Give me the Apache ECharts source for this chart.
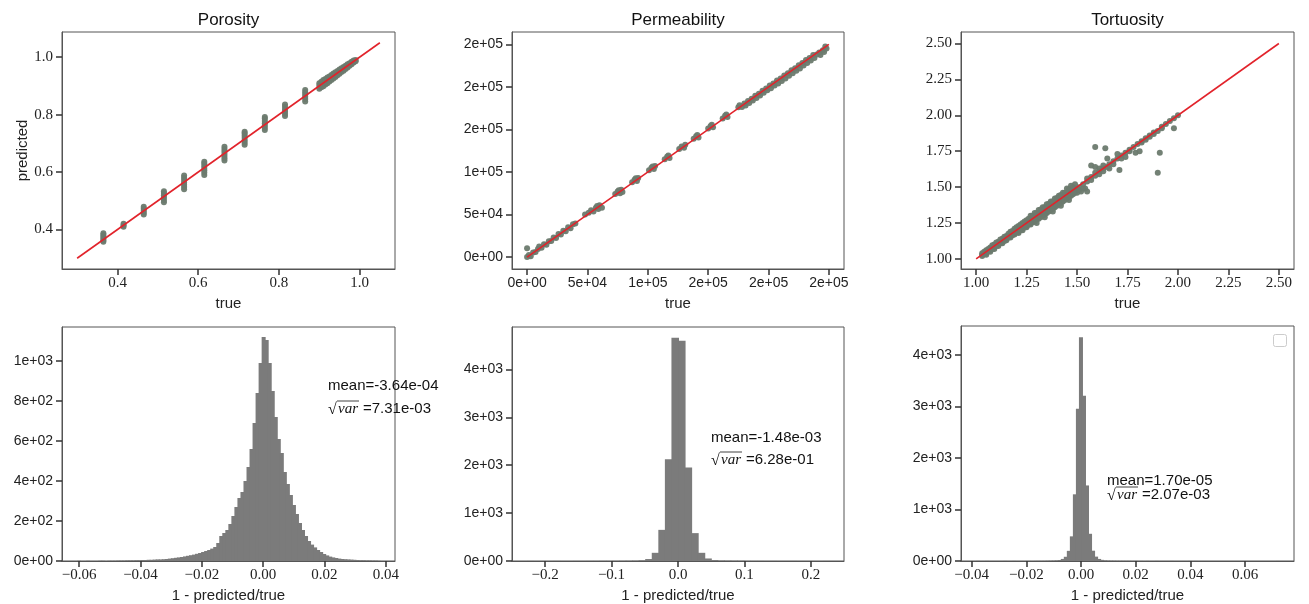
<!DOCTYPE html>
<html><head><meta charset="utf-8">
<script src="https://cdn.jsdelivr.net/npm/echarts@6/dist/echarts.min.js"></script>
<style>html,body{margin:0;padding:0;background:#fff}#c{width:1309px;height:604px}</style>
</head><body><div id="c"></div>
<script>
// ---------------- DATA ----------------
var titles = ['Porosity', 'Permeability', 'Tortuosity'];

// Porosity scatter [true, predicted]
var porosityPoints = [
 [0.365,0.357],[0.365,0.363],[0.365,0.369],[0.365,0.375],[0.365,0.381],[0.365,0.387],
 [0.415,0.410],[0.415,0.415],[0.415,0.420],
 [0.465,0.452],[0.465,0.459],[0.465,0.466],[0.465,0.473],[0.465,0.479],
 [0.515,0.495],[0.515,0.503],[0.515,0.511],[0.515,0.519],[0.515,0.527],[0.515,0.533],
 [0.565,0.540],[0.565,0.548],[0.565,0.556],[0.565,0.564],[0.565,0.572],[0.565,0.580],[0.565,0.588],
 [0.615,0.590],[0.615,0.598],[0.615,0.606],[0.615,0.614],[0.615,0.622],[0.615,0.630],[0.615,0.636],
 [0.665,0.640],[0.665,0.648],[0.665,0.656],[0.665,0.664],[0.665,0.672],[0.665,0.680],[0.665,0.688],
 [0.715,0.695],[0.715,0.703],[0.715,0.711],[0.715,0.719],[0.715,0.727],[0.715,0.735],[0.715,0.740],
 [0.765,0.746],[0.765,0.754],[0.765,0.762],[0.765,0.770],[0.765,0.778],[0.765,0.786],[0.765,0.792],
 [0.815,0.795],[0.815,0.803],[0.815,0.811],[0.815,0.819],[0.815,0.827],[0.815,0.835],
 [0.865,0.846],[0.865,0.854],[0.865,0.862],[0.865,0.870],[0.865,0.878],[0.865,0.886],
 [0.900,0.890],[0.900,0.900],[0.900,0.909],[0.905,0.895],[0.905,0.906],[0.905,0.914],
 [0.910,0.899],[0.910,0.910],[0.910,0.920],[0.915,0.905],[0.915,0.916],[0.915,0.924],
 [0.920,0.909],[0.920,0.920],[0.920,0.929],[0.925,0.915],[0.925,0.926],[0.925,0.933],
 [0.930,0.920],[0.930,0.930],[0.930,0.938],[0.935,0.926],[0.935,0.935],[0.935,0.943],
 [0.940,0.931],[0.940,0.940],[0.940,0.947],[0.945,0.937],[0.945,0.945],[0.945,0.952],
 [0.950,0.942],[0.950,0.950],[0.950,0.957],[0.955,0.948],[0.955,0.955],[0.955,0.961],
 [0.960,0.953],[0.960,0.960],[0.960,0.966],[0.965,0.959],[0.965,0.965],[0.965,0.970],
 [0.970,0.964],[0.970,0.970],[0.970,0.975],[0.975,0.970],[0.975,0.975],[0.975,0.979],
 [0.980,0.975],[0.980,0.980],[0.980,0.984],[0.985,0.981],[0.985,0.985],[0.985,0.988],
 [0.990,0.986],[0.990,0.990]
];
var porosityLine = [0.3, 1.05];

// Permeability scatter [true, predicted]
var permeabilityPoints = [
 [0,0],[1500,2500],[0,10500],[3000,1000],[5000,5500],[7000,6000],[9000,9500],[10000,12500],[12000,11000],
 [14000,15000],[16000,14500],[18000,18500],[20000,19000],[22000,23000],[24000,22500],[26000,27000],
 [28000,26500],[30000,31000],[32000,30500],[34000,35000],[36000,34000],[38000,38500],[40000,39500],
 [48000,50000],[51000,52000],[53000,55000],[55000,53500],[57000,58000],[59000,56500],[60000,61000],[62000,58000],[58000,60000],
 [73000,74000],[75000,77000],[77000,75000],[78000,79000],[76000,78500],[79000,76500],
 [87000,88000],[89000,91000],[91000,89500],[92000,93000],[90000,92500],
 [101000,102000],[103000,105000],[105000,103500],[106000,107000],[104000,106500],
 [114000,115000],[116000,118000],[118000,116500],[117000,119500],
 [126000,127000],[128000,130000],[130000,128500],[131000,132000],
 [138000,139000],[140000,142000],[142000,140500],[141000,143500],
 [150000,151000],[152000,154000],[154000,152500],[153000,155500],
 [162000,163000],[164000,166000],[166000,164500],[165000,167500],
 [175000,176000],[176000,178500],[178000,176500],[180000,180500],[181000,178000],[183000,183500],[184000,181000],
 [186000,186000],[187000,184000],[189000,189500],[190000,187000],[192000,192000],[193000,190000],[195000,195500],
 [196000,193000],[198000,198000],[199000,196000],[201000,201500],[202000,198500],[204000,204000],[205000,201500],
 [207000,207500],[208000,204000],[210000,210000],[211000,207000],[213000,213500],[214000,210000],[216000,216000],
 [217000,213000],[219000,219500],[220000,216000],[222000,222000],[223000,219000],[225000,225500],[226000,221500],
 [228000,228000],[229000,225000],[231000,231500],[232000,228000],[234000,234000],[235000,231000],[237000,237500],
 [238000,234000],[240000,238000],[242000,240500],[243000,237500],[245000,243000],[246000,241000],[248000,245000],[247000,247500]
];
var permeabilityLine = [0, 250000];

// Tortuosity scatter [true, predicted]
var tortuosityPoints = [
 [1.03,1.03],[1.03,1.04],[1.03,1.02],[1.05,1.05],[1.05,1.04],[1.05,1.06],[1.05,1.03],
 [1.07,1.07],[1.07,1.06],[1.07,1.08],[1.07,1.05],[1.09,1.09],[1.09,1.08],[1.09,1.10],[1.09,1.07],
 [1.11,1.11],[1.11,1.10],[1.11,1.12],[1.11,1.09],[1.13,1.13],[1.13,1.11],[1.13,1.14],[1.13,1.12],
 [1.15,1.15],[1.15,1.13],[1.15,1.16],[1.15,1.14],[1.17,1.17],[1.17,1.15],[1.17,1.19],[1.17,1.16],
 [1.19,1.19],[1.19,1.17],[1.19,1.21],[1.19,1.18],[1.21,1.21],[1.21,1.19],[1.21,1.23],[1.21,1.18],
 [1.23,1.23],[1.23,1.21],[1.23,1.25],[1.23,1.20],[1.25,1.25],[1.25,1.22],[1.25,1.27],[1.25,1.23],
 [1.27,1.27],[1.27,1.24],[1.27,1.30],[1.27,1.25],[1.29,1.29],[1.29,1.26],[1.29,1.32],[1.29,1.27],
 [1.31,1.31],[1.31,1.28],[1.31,1.34],[1.31,1.29],[1.33,1.33],[1.33,1.30],[1.33,1.36],[1.33,1.31],
 [1.35,1.35],[1.35,1.32],[1.35,1.38],[1.35,1.33],[1.37,1.37],[1.37,1.34],[1.37,1.40],[1.37,1.35],
 [1.39,1.39],[1.39,1.36],[1.39,1.42],[1.39,1.37],[1.41,1.41],[1.41,1.38],[1.41,1.44],[1.41,1.40],
 [1.43,1.43],[1.43,1.40],[1.43,1.46],[1.43,1.42],[1.45,1.45],[1.45,1.42],[1.45,1.49],[1.45,1.44],
 [1.47,1.47],[1.47,1.44],[1.47,1.51],[1.47,1.46],[1.49,1.49],[1.49,1.46],[1.49,1.52],[1.49,1.47],
 [1.04,1.035],[1.06,1.055],[1.08,1.07],[1.10,1.09],[1.12,1.11],[1.14,1.125],[1.16,1.15],[1.18,1.165],
 [1.20,1.185],[1.22,1.20],[1.24,1.22],[1.26,1.24],[1.28,1.255],[1.30,1.275],[1.32,1.29],[1.34,1.31],
 [1.36,1.33],[1.38,1.35],[1.40,1.37],[1.42,1.39],[1.44,1.41],[1.46,1.43],[1.48,1.45],
 [1.04,1.05],[1.06,1.07],[1.08,1.095],[1.10,1.115],[1.12,1.135],[1.14,1.155],[1.16,1.175],[1.18,1.195],
 [1.20,1.22],[1.22,1.24],[1.24,1.26],[1.26,1.28],[1.28,1.30],[1.30,1.32],[1.32,1.345],[1.34,1.36],
 [1.36,1.385],[1.38,1.40],[1.40,1.425],[1.42,1.445],[1.44,1.46],[1.46,1.485],[1.48,1.50],
 [1.30,1.25],[1.34,1.29],[1.38,1.33],[1.42,1.37],[1.46,1.41],[1.50,1.46],[1.52,1.47],[1.54,1.49],
 [1.51,1.50],[1.51,1.48],[1.53,1.52],[1.53,1.49],[1.55,1.56],[1.55,1.54],[1.55,1.47],
 [1.57,1.57],[1.57,1.65],[1.57,1.55],[1.59,1.60],[1.59,1.58],[1.59,1.64],[1.59,1.78],
 [1.61,1.61],[1.61,1.63],[1.61,1.59],[1.63,1.63],[1.63,1.61],[1.63,1.65],[1.64,1.77],
 [1.65,1.64],[1.65,1.70],[1.66,1.66],[1.66,1.63],[1.68,1.68],[1.68,1.66],
 [1.70,1.70],[1.70,1.73],[1.71,1.62],[1.72,1.72],[1.72,1.70],[1.74,1.74],[1.74,1.71],
 [1.76,1.76],[1.76,1.75],[1.78,1.78],[1.79,1.74],[1.80,1.80],[1.81,1.75],[1.82,1.82],[1.82,1.81],
 [1.84,1.84],[1.84,1.83],[1.86,1.86],[1.86,1.85],[1.88,1.88],[1.88,1.87],[1.90,1.89],[1.90,1.60],[1.91,1.74],
 [1.92,1.92],[1.92,1.91],[1.94,1.94],[1.96,1.96],[1.98,1.98],[1.98,1.91],[2.00,2.00]
];
var tortuosityLine = [1.0, 2.5];

// Histograms of 1 - predicted/true (bin start, bin width, counts)
var porosityHistStart = -0.0607, porosityHistWidth = 0.000987;
var porosityHistCounts = [
 1,0,0,1,0,0,0,1,1,0,
 1,1,1,2,2,2,3,3,3,4,
 4,5,5,6,6,7,8,8,9,10,
 12,14,16,18,20,23,26,29,32,36,
 40,45,50,55,62,70,90,125,140,155,
 185,225,270,315,345,400,470,560,690,840,
 990,1120,1105,990,850,720,610,540,445,385,
 330,280,235,190,155,125,100,82,68,55,
 45,35,28,22,18,15,12,10,9,8,
 7,6,5,4,4,3,3,2,2,1
];
var permeabilityHistStart = -0.227, permeabilityHistWidth = 0.00987;
var permeabilityHistCounts = [
 1,0,0,0,1,0,0,1,0,1,1,2,
 2,3,4,5,8,15,41,171,650,2123,4658,4596,1952,582,171,53,20,10,8,6,5,2,1,1,
 0,1,0,0,1,0,0,0,0,1
];
var tortuosityHistStart = -0.0384, tortuosityHistWidth = 0.001107;
var tortuosityHistCounts = [
 2,0,0,1,0,0,0,0,0,1,0,0,1,0,0,0,1,1,0,1,2,2,3,
 5,6,8,12,20,40,82,197,478,1294,2953,4344,3208,1466,528,200,85,40,22,12,8,6,5,4,3,3,2,2,1,2,1,1,0,1,
 0,0,1,0,0,0,0,1,0,0,0,0,0,1,0,1,0,0,0,0,0,0,0,0,0,0,0,0,0,0,0,0,0,0,0,0,0,0,0,0,0,0,1
];

// Tick values and labels
var porosityTicks = [0.4, 0.6, 0.8, 1.0];
var permeabilityTicks = [0, 50000, 100000, 150000, 200000, 250000];
var permeabilityTickLabels = ['0e+00', '5e+04', '1e+05', '2e+05', '2e+05', '2e+05'];
var tortuosityTicks = [1.0, 1.25, 1.5, 1.75, 2.0, 2.25, 2.5];
var hist1XTicks = [-0.06, -0.04, -0.02, 0, 0.02, 0.04];
var hist1XLabels = ['\u22120.06', '\u22120.04', '\u22120.02', '0.00', '0.02', '0.04'];
var hist1YTicks = [0, 200, 400, 600, 800, 1000];
var hist1YLabels = ['0e+00', '2e+02', '4e+02', '6e+02', '8e+02', '1e+03'];
var hist2XTicks = [-0.2, -0.1, 0, 0.1, 0.2];
var hist2XLabels = ['\u22120.2', '\u22120.1', '0.0', '0.1', '0.2'];
var hist2YTicks = [0, 1000, 2000, 3000, 4000];
var hist2YLabels = ['0e+00', '1e+03', '2e+03', '3e+03', '4e+03'];
var hist3XTicks = [-0.04, -0.02, 0, 0.02, 0.04, 0.06];
var hist3XLabels = ['\u22120.04', '\u22120.02', '0.00', '0.02', '0.04', '0.06'];
var hist3YTicks = [0, 1000, 2000, 3000, 4000];
var hist3YLabels = ['0e+00', '1e+03', '2e+03', '3e+03', '4e+03'];

var statTexts = [
 ['mean=-3.64e-04', '=7.31e-03'],
 ['mean=-1.48e-03', '=6.28e-01'],
 ['mean=1.70e-05', '=2.07e-03']
];

// ---------------- STYLE / LAYOUT ----------------
var SANS = 'Liberation Sans', SERIF = 'Liberation Serif';
var FRAME = '#555';
var grids = [
 {left: 62, top: 32, width: 333, height: 237},
 {left: 512, top: 32, width: 332, height: 237},
 {left: 961, top: 32, width: 333, height: 237},
 {left: 62, top: 327, width: 333, height: 237},
 {left: 512, top: 327, width: 332, height: 237},
 {left: 961, top: 326, width: 333, height: 238}
];
grids.forEach(function (g) { g.show = true; g.borderColor = FRAME; g.borderWidth = 1; });

function labelFor(ticks, labels, decimals) {
  return function (v) {
    for (var i = 0; i < ticks.length; i++) if (Math.abs(ticks[i] - v) < 1e-9 * Math.max(1, Math.abs(v))) {
      return labels ? labels[i] : ticks[i].toFixed(decimals);
    }
    return '';
  };
}
function axis(kind, idx, min, max, ticks, fmt, serif, name) {
  var a = {
    type: 'value', gridIndex: idx, min: min, max: max,
    splitLine: {show: false},
    axisLine: {show: true, onZero: false, lineStyle: {color: FRAME, width: 1}},
    axisTick: {show: true, length: 6, customValues: ticks, lineStyle: {color: '#333', width: 1.5}},
    axisLabel: {customValues: ticks, formatter: fmt, color: '#222',
      fontFamily: serif ? SERIF : SANS, fontSize: serif ? 15 : 14, margin: kind === 'x' ? 7 : 9}
  };
  if (name) {
    a.name = name; a.nameLocation = 'middle';
    a.nameTextStyle = {fontFamily: SANS, fontSize: 15, color: '#222'};
    a.nameGap = kind === 'x' ? 27 : 31;
  }
  return a;
}

var xAxes = [
 axis('x', 0, 0.2625, 1.0875, porosityTicks, labelFor(porosityTicks, null, 1), true, 'true'),
 axis('x', 1, -12500, 262500, permeabilityTicks, labelFor(permeabilityTicks, permeabilityTickLabels), false, 'true'),
 axis('x', 2, 0.925, 2.575, tortuosityTicks, labelFor(tortuosityTicks, null, 2), true, 'true'),
 axis('x', 3, -0.0656, 0.0430, hist1XTicks, labelFor(hist1XTicks, hist1XLabels), true, '1 - predicted/true'),
 axis('x', 4, -0.2497, 0.2497, hist2XTicks, labelFor(hist2XTicks, hist2XLabels), true, '1 - predicted/true'),
 axis('x', 5, -0.0439, 0.0779, hist3XTicks, labelFor(hist3XTicks, hist3XLabels), true, '1 - predicted/true')
];
var yAxes = [
 axis('y', 0, 0.2625, 1.0875, porosityTicks, labelFor(porosityTicks, null, 1), true, 'predicted'),
 axis('y', 1, -14000, 264500, permeabilityTicks, labelFor(permeabilityTicks, permeabilityTickLabels), false),
 axis('y', 2, 0.93, 2.58, tortuosityTicks, labelFor(tortuosityTicks, null, 2), true),
 axis('y', 3, 0, 1170, hist1YTicks, labelFor(hist1YTicks, hist1YLabels), false),
 axis('y', 4, 0, 4885, hist2YTicks, labelFor(hist2YTicks, hist2YLabels), false),
 axis('y', 5, 0, 4560, hist3YTicks, labelFor(hist3YTicks, hist3YLabels), false)
];

var PT = '#6b7a6e', RED = '#e2232b', BAR = '#7b7b7b';
function scatter(i, pts) {
  return {type: 'scatter', xAxisIndex: i, yAxisIndex: i, data: pts, symbolSize: 6,
    itemStyle: {color: PT, opacity: 0.95}, z: 2, silent: true, animation: false};
}
function refLine(i, ends) {
  return {type: 'line', xAxisIndex: i, yAxisIndex: i, data: [[ends[0], ends[0]], [ends[1], ends[1]]],
    symbol: 'none', lineStyle: {color: RED, width: 1.6}, z: 3, silent: true, animation: false};
}
function hist(i, start, width, counts) {
  var data = counts.map(function (c, k) { return [start + k * width, start + (k + 1) * width, c]; });
  return {type: 'custom', xAxisIndex: i, yAxisIndex: i, data: data, silent: true, animation: false,
    encode: {x: [0, 1], y: 2},
    renderItem: function (params, api) {
      var p0 = api.coord([api.value(0), api.value(2)]);
      var p1 = api.coord([api.value(1), 0]);
      return {type: 'rect', shape: {x: p0[0], y: p0[1], width: p1[0] - p0[0] + 1, height: p1[1] - p0[1]},
        style: {fill: BAR}};
    }};
}

// Graphic annotations
var graphics = [];
[[228.5, 20], [678, 20], [1127.5, 20]].forEach(function (p, k) {
  graphics.push({type: 'text', x: p[0], y: p[1], style: {text: titles[k], font: '17px "' + SANS + '"',
    fill: '#111', align: 'center', verticalAlign: 'middle'}});
});
function stat(x, y1, y2, k) {
  graphics.push({type: 'text', x: x, y: y1, style: {text: statTexts[k][0], font: '15px "' + SANS + '"', fill: '#111', verticalAlign: 'middle'}});
  graphics.push({type: 'text', x: x, y: y2 + 1, style: {text: '\u221A', font: '16px "' + SERIF + '"', fill: '#111', verticalAlign: 'middle'}});
  graphics.push({type: 'line', shape: {x1: x + 9, y1: y2 - 8, x2: x + 31, y2: y2 - 8}, style: {stroke: '#111', lineWidth: 0.8}});
  graphics.push({type: 'text', x: x + 10, y: y2, style: {text: 'var', font: 'italic 15px "' + SERIF + '"', fill: '#111', verticalAlign: 'middle'}});
  graphics.push({type: 'text', x: x + 35, y: y2, style: {text: statTexts[k][1], font: '15px "' + SANS + '"', fill: '#111', verticalAlign: 'middle'}});
}
stat(328, 386, 409, 0);
stat(711, 437.5, 460, 1);
stat(1107, 481, 495, 2);
graphics.push({type: 'rect', shape: {x: 1273.5, y: 334.5, width: 13, height: 12, r: 2},
  style: {fill: '#fff', stroke: '#ccc', lineWidth: 1}});

var chart = echarts.init(document.getElementById('c'), null, {renderer: 'canvas'});
chart.setOption({
  animation: false,
  backgroundColor: '#fff',
  grid: grids,
  xAxis: xAxes,
  yAxis: yAxes,
  series: [
    scatter(0, porosityPoints), refLine(0, porosityLine),
    scatter(1, permeabilityPoints), refLine(1, permeabilityLine),
    scatter(2, tortuosityPoints), refLine(2, tortuosityLine),
    hist(3, porosityHistStart, porosityHistWidth, porosityHistCounts),
    hist(4, permeabilityHistStart, permeabilityHistWidth, permeabilityHistCounts),
    hist(5, tortuosityHistStart, tortuosityHistWidth, tortuosityHistCounts)
  ],
  graphic: graphics
});
</script></body></html>
